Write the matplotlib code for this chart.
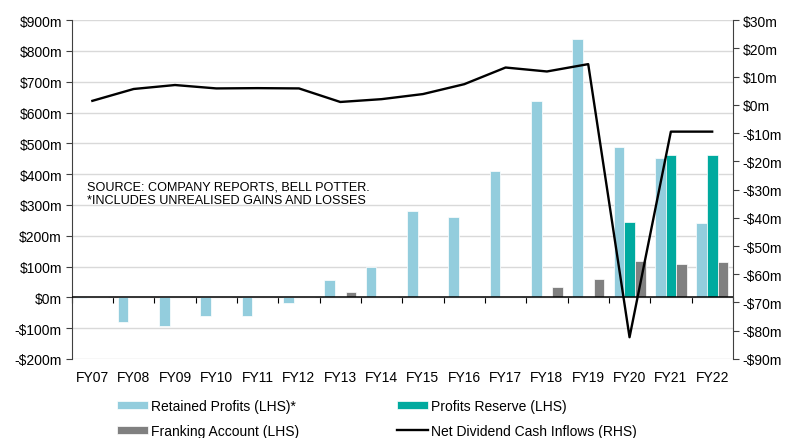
import numpy as np
import matplotlib.pyplot as plt
from matplotlib.ticker import FuncFormatter

plt.rcParams['font.family'] = ['Liberation Sans', 'DejaVu Sans']

years = ['FY07', 'FY08', 'FY09', 'FY10', 'FY11', 'FY12', 'FY13', 'FY14',
         'FY15', 'FY16', 'FY17', 'FY18', 'FY19', 'FY20', 'FY21', 'FY22']
retained = [-2, -79, -93, -62, -62, -17, 57, 100, 280, 260, 410, 637, 839, 487, 452, 241]
reserve = [0, 0, 0, 0, 0, 0, 0, 0, 0, 0, 0, 0, 0, 244, 462, 462]
franking = [0, 0, 0, 0, 0, 0, 17, 0, 0, 2, 0, 35, 59, 119, 107, 116]
net_div = [1.4, 5.6, 7.0, 5.8, 5.9, 5.8, 1.0, 2.0, 3.8, 7.3, 13.2, 11.8, 14.4, -82.3, -9.5, -9.5]

x = np.arange(len(years))
w = 0.258


def money(v, p):
    return f'-${-v:.0f}m' if v < 0 else f'${v:.0f}m'


fig = plt.figure(figsize=(7.88, 4.39), dpi=100)
ax = fig.add_axes([0.091, 0.180, 0.839, 0.772])
ax2 = ax.twinx()

b1 = ax.bar(x - w, retained, w, color='#93CDDD', edgecolor='white', linewidth=0.5, zorder=2,
            label='Retained Profits (LHS)*')
b2 = ax.bar(x, reserve, w, color='#00AA9F', edgecolor='white', linewidth=0.5, zorder=2,
            label='Profits Reserve (LHS)')
b3 = ax.bar(x + w, franking, w, color='#808080', edgecolor='white', linewidth=0.5, zorder=2,
            label='Franking Account (LHS)')
ax.axhline(0, color='black', linewidth=1.1, zorder=3)
l1, = ax2.plot(x, net_div, color='black', linewidth=1.7, label='Net Dividend Cash Inflows (RHS)')

ax.set_xlim(-0.5, len(years) - 0.5)
ax.set_ylim(-200, 900)
ax.set_yticks(np.arange(-200, 901, 100))
ax.yaxis.set_major_formatter(FuncFormatter(money))
ax2.set_ylim(-90, 30)
ax2.set_yticks(np.arange(-90, 31, 10))
ax2.yaxis.set_major_formatter(FuncFormatter(money))

ax.grid(axis='y', color='#D9D9D9', linewidth=1, zorder=0)
ax.set_axisbelow(True)

ax.set_xticks(x)
ax.set_xticklabels(years)
ax.tick_params(axis='x', length=0, pad=8, labelsize=10)
ax.tick_params(axis='y', length=4, color='#404040', labelsize=10, pad=3)
ax2.tick_params(axis='y', length=4, color='#404040', labelsize=10, pad=3)

for a in (ax, ax2):
    a.spines['top'].set_visible(False)
    a.spines['bottom'].set_visible(False)
ax.spines['left'].set_color('#404040')
ax2.spines['right'].set_color('#404040')
ax2.spines['left'].set_visible(False)
ax.spines['right'].set_visible(False)

# tick marks between categories on the zero line
sec = ax.secondary_xaxis(200 / 1100)
sec.set_xticks(np.arange(-0.5, len(years), 1.0))
sec.set_xticklabels([])
sec.tick_params(length=4, color='black')
sec.spines['bottom'].set_visible(False)
sec.spines['top'].set_visible(False)

ax.text(0.023, 0.49, 'SOURCE: COMPANY REPORTS, BELL POTTER.\n*INCLUDES UNREALISED GAINS AND LOSSES',
        transform=ax.transAxes, fontsize=9.1, va='center', ha='left', linespacing=1.15)

fig.legend(handles=[b1, b3, b2, l1], ncol=2, frameon=False, fontsize=10,
           loc='lower left', bbox_to_anchor=(0.133, -0.028), handlelength=2.2,
           handleheight=0.55, columnspacing=7.1, labelspacing=0.8, handletextpad=0.2)

plt.savefig('out.png', dpi=100)
